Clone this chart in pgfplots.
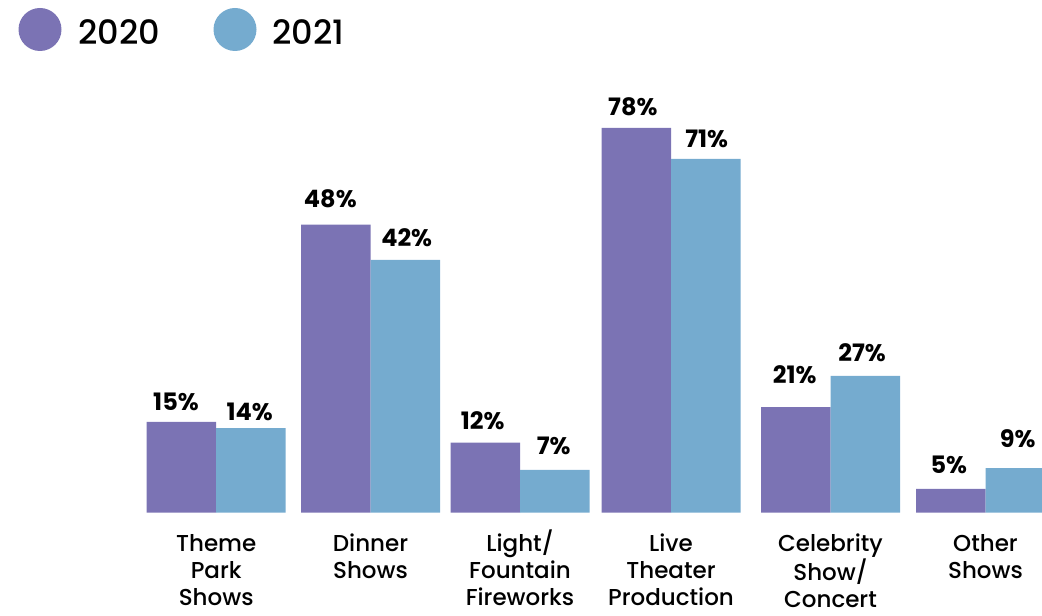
\documentclass[border=0pt]{standalone}
\usepackage{pgfplots}
\pgfplotsset{compat=1.18}
\usepackage{pgfplotstable}
\usepackage{fontspec}
\setmainfont{Poppins}
\newfontfamily\pmed{Poppins Medium}
\definecolor{cA}{RGB}{123,115,180}
\definecolor{cB}{RGB}{117,171,207}
\pgfplotstableread{
x h20 h21
216.2 18.39 17.17
370.5 58.39 51.24
520.0 14.19 8.66
671.0 78.00 71.72
830.5 21.43 27.72
985.5 4.81 9.06
}\bars
\pgfplotstableread{
x y v
176.0 20.8 15
330.3 61.8 48
482.7 16.8 12
632.8 80.6 78
794.7 26.2 21
948.8 8.0 5
}\labA
\pgfplotstableread{
x y v
249.7 18.65 14
406.7 53.9 42
553.7 11.7 7
706.7 74.1 71
862.0 30.6 27
1017.7 13.3 9
}\labB
\newcommand{\fl}{\rule{0pt}{24pt}}
\begin{document}
\begin{tikzpicture}
\useasboundingbox (0,0) rectangle (1042pt,616pt);
\begin{axis}[
  at={(0pt,103.3pt)}, anchor=south west,
  x=1pt, y=4.932pt,
  xmin=0, xmax=1042, ymin=0, ymax=100,
  axis line style={draw=none},
  major tick length=0pt,
  ytick=\empty,
  xtick={216.2,370.5,520,671,830.5,985.5},
  xticklabels={{\fl Theme\\Park\\Shows},{\fl Dinner\\Shows},{\fl Light/\\Fountain\\Fireworks},{\fl Live\\Theater\\Production},{\fl Celebrity\\Show/\\Concert},{\fl Other\\Shows}},
  xticklabel style={align=center, anchor=north, inner sep=0pt, yshift=-15pt,
    font=\pmed\fontsize{23}{27}\selectfont},
  clip=true,
]
\addplot[ybar, bar width=69.5pt, bar shift=-34.75pt, fill=cA, draw=none] table[x=x,y=h20] {\bars};
\addplot[ybar, bar width=69.5pt, bar shift=34.75pt, fill=cB, draw=none] table[x=x,y=h21] {\bars};
\addplot[draw=none, mark=none, point meta=explicit, nodes near coords={\pgfmathprintnumber[assume math mode=true]{\pgfplotspointmeta}\%},
  nodes near coords style={anchor=base, inner sep=0pt, font=\fontsize{24}{28}\selectfont\bfseries, text=black}]
  table[x=x,y=y,meta=v] {\labA};
\addplot[draw=none, mark=none, point meta=explicit, nodes near coords={\pgfmathprintnumber[assume math mode=true]{\pgfplotspointmeta}\%},
  nodes near coords style={anchor=base, inner sep=0pt, font=\fontsize{24}{28}\selectfont\bfseries, text=black}]
  table[x=x,y=y,meta=v] {\labB};
\end{axis}
\fill[cA] (40pt,586.5pt) circle (21.5pt);
\fill[cB] (235pt,586.5pt) circle (21.5pt);
\node[anchor=base west, inner sep=0pt, font=\pmed\fontsize{33.5}{40}\selectfont] at (78pt,571pt) {2020};
\node[anchor=base west, inner sep=0pt, font=\pmed\fontsize{33.5}{40}\selectfont] at (272pt,571pt) {2021};
\end{tikzpicture}
\end{document}
